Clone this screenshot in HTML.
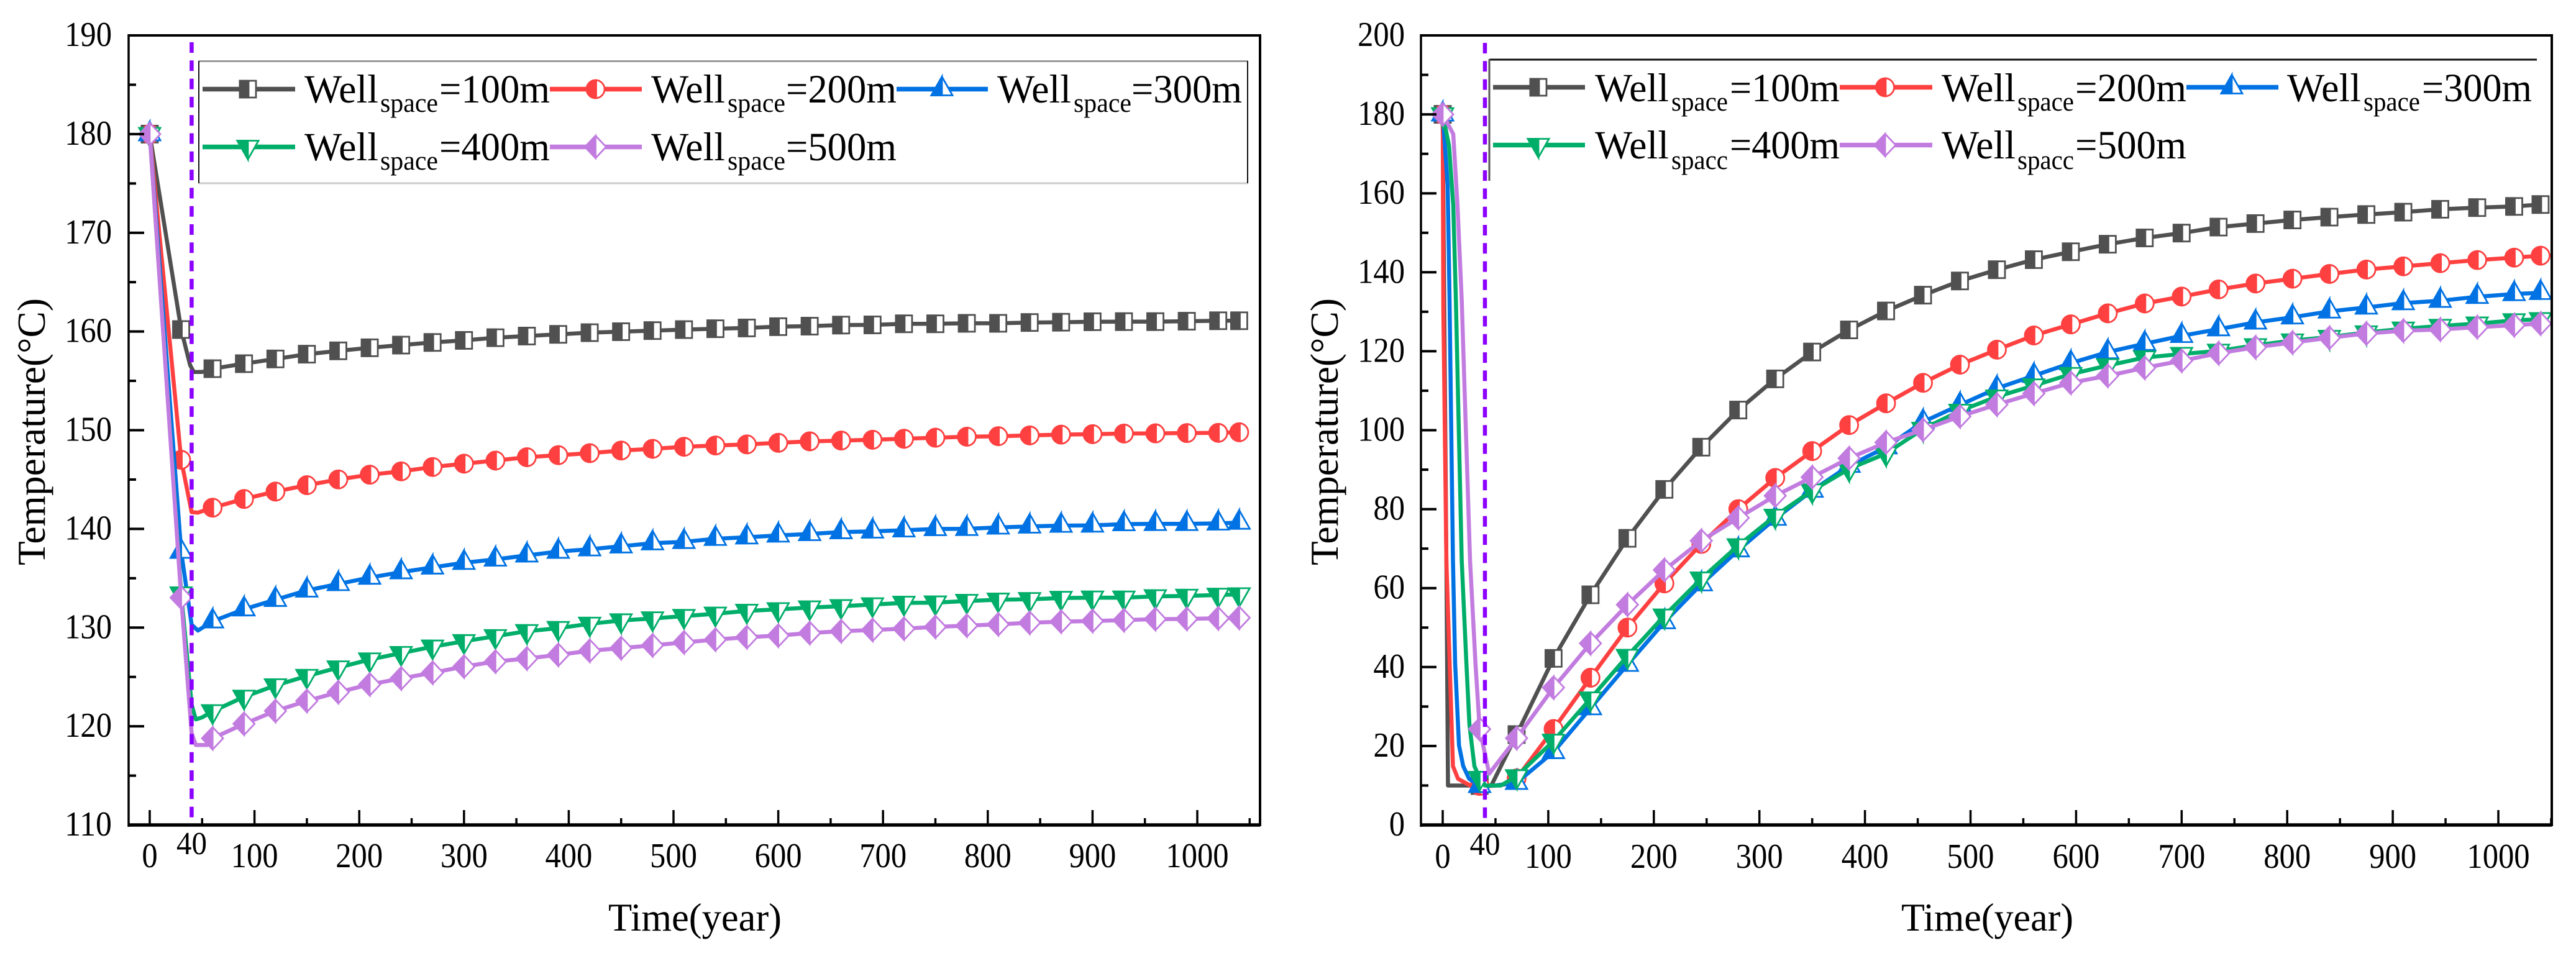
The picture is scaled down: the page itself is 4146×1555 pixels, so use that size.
<!DOCTYPE html>
<html lang="en">
<head>
<meta charset="utf-8">
<title>Temperature vs Time for well spacing</title>
<style>
html,body{margin:0;padding:0;background:#fff;}
svg{display:block;}
text{font-family:"Liberation Serif","Times New Roman",serif;fill:#000;}
</style>
</head>
<body>
<svg id="fig" xmlns="http://www.w3.org/2000/svg" width="4146" height="1555" viewBox="0 0 4146 1555">
<rect x="0" y="0" width="4146" height="1555" fill="#fff"/>

<g id="left-chart"></g>
<g id="right-chart"></g>

<!-- left legend box -->
<g>
<rect x="320" y="98" width="1688" height="197" fill="#fff" stroke="none"/>
<line x1="320" y1="98.5" x2="2008" y2="98.5" stroke="#999" stroke-width="3"/>
<line x1="320" y1="295" x2="2008" y2="295" stroke="#ccc" stroke-width="3"/>
<line x1="320" y1="98" x2="320" y2="295" stroke="#111" stroke-width="2"/>
<line x1="2008" y1="98" x2="2008" y2="295" stroke="#111" stroke-width="2"/>
<g id="left-legend-keys"></g>
<g>
<text x="490" y="165" font-size="65" textLength="119" lengthAdjust="spacingAndGlyphs">Well</text>
<text x="612" y="180" font-size="43" textLength="93" lengthAdjust="spacingAndGlyphs">space</text>
<text x="707" y="165" font-size="65" textLength="178" lengthAdjust="spacingAndGlyphs">=100m</text>
</g>
<g>
<text x="1048" y="165" font-size="65" textLength="119" lengthAdjust="spacingAndGlyphs">Well</text>
<text x="1171" y="180" font-size="43" textLength="93" lengthAdjust="spacingAndGlyphs">space</text>
<text x="1265" y="165" font-size="65" textLength="178" lengthAdjust="spacingAndGlyphs">=200m</text>
</g>
<g>
<text x="1605" y="165" font-size="65" textLength="119" lengthAdjust="spacingAndGlyphs">Well</text>
<text x="1728" y="180" font-size="43" textLength="93" lengthAdjust="spacingAndGlyphs">space</text>
<text x="1821" y="165" font-size="65" textLength="178" lengthAdjust="spacingAndGlyphs">=300m</text>
</g>
<g>
<text x="490" y="258" font-size="65" textLength="119" lengthAdjust="spacingAndGlyphs">Well</text>
<text x="612" y="273" font-size="43" textLength="93" lengthAdjust="spacingAndGlyphs">space</text>
<text x="707" y="258" font-size="65" textLength="178" lengthAdjust="spacingAndGlyphs">=400m</text>
</g>
<g>
<text x="1048" y="258" font-size="65" textLength="119" lengthAdjust="spacingAndGlyphs">Well</text>
<text x="1171" y="273" font-size="43" textLength="93" lengthAdjust="spacingAndGlyphs">space</text>
<text x="1265" y="258" font-size="65" textLength="178" lengthAdjust="spacingAndGlyphs">=500m</text>
</g>
</g>

<!-- right legend box -->
<g>
<line x1="2397" y1="96" x2="4083" y2="96" stroke="#111" stroke-width="3"/>
<line x1="2397" y1="95" x2="2397" y2="291" stroke="#555" stroke-width="3"/>
<g id="right-legend-keys"></g>
<g>
<text x="2567" y="163" font-size="65" textLength="119" lengthAdjust="spacingAndGlyphs">Well</text>
<text x="2690" y="178" font-size="43" textLength="91" lengthAdjust="spacingAndGlyphs">space</text>
<text x="2784" y="163" font-size="65" textLength="177" lengthAdjust="spacingAndGlyphs">=100m</text>
</g>
<g>
<text x="3125" y="163" font-size="65" textLength="119" lengthAdjust="spacingAndGlyphs">Well</text>
<text x="3247" y="178" font-size="43" textLength="91" lengthAdjust="spacingAndGlyphs">space</text>
<text x="3340" y="163" font-size="65" textLength="179" lengthAdjust="spacingAndGlyphs">=200m</text>
</g>
<g>
<text x="3681" y="163" font-size="65" textLength="119" lengthAdjust="spacingAndGlyphs">Well</text>
<text x="3804" y="178" font-size="43" textLength="91" lengthAdjust="spacingAndGlyphs">space</text>
<text x="3898" y="163" font-size="65" textLength="177" lengthAdjust="spacingAndGlyphs">=300m</text>
</g>
<g>
<text x="2567" y="255" font-size="65" textLength="119" lengthAdjust="spacingAndGlyphs">Well</text>
<text x="2690" y="272" font-size="43" textLength="91" lengthAdjust="spacingAndGlyphs">spacc</text>
<text x="2784" y="255" font-size="65" textLength="177" lengthAdjust="spacingAndGlyphs">=400m</text>
</g>
<g>
<text x="3125" y="255" font-size="65" textLength="119" lengthAdjust="spacingAndGlyphs">Well</text>
<text x="3247" y="272" font-size="43" textLength="91" lengthAdjust="spacingAndGlyphs">spacc</text>
<text x="3340" y="255" font-size="65" textLength="179" lengthAdjust="spacingAndGlyphs">=500m</text>
</g>
</g>

<!-- axis titles -->
<text x="979" y="1498" font-size="63" textLength="279" lengthAdjust="spacingAndGlyphs">Time(year)</text>
<text x="3060" y="1498" font-size="63" textLength="277" lengthAdjust="spacingAndGlyphs">Time(year)</text>
<text transform="translate(72,910) rotate(-90)" font-size="63" textLength="430" lengthAdjust="spacingAndGlyphs">Temperature(°C)</text>
<text transform="translate(2153,910) rotate(-90)" font-size="63" textLength="430" lengthAdjust="spacingAndGlyphs">Temperature(°C)</text>
</svg>

<script>
// ---------- Left chart data (temperature at production end) ----------
const leftYears = [0,30,60,90,120,150,180,210,240,270,300,330,360,390,420,450,480,510,540,570,600,630,660,690,720,750,780,810,840,870,900,930,960,990,1020,1040];
const leftTemp100 = [180,160.2,156.23,156.74,157.22,157.7,158.04,158.35,158.62,158.89,159.1,159.37,159.54,159.71,159.88,159.98,160.09,160.19,160.28,160.36,160.49,160.54,160.65,160.67,160.78,160.78,160.83,160.83,160.91,160.94,160.99,161.0,161.0,161.04,161.09,161.09];
const leftTemp200 = [180,147.0,142.15,143.03,143.78,144.43,145.01,145.49,145.83,146.27,146.61,146.92,147.26,147.47,147.67,147.94,148.11,148.32,148.45,148.56,148.72,148.87,148.95,149.03,149.13,149.24,149.34,149.39,149.47,149.55,149.6,149.66,149.68,149.71,149.73,149.79];
const leftTemp300 = [180,137.7,130.64,131.86,132.82,133.77,134.42,135.07,135.62,136.1,136.57,136.91,137.32,137.7,137.94,138.24,138.55,138.69,139.0,139.15,139.34,139.49,139.68,139.75,139.86,139.99,140.01,140.15,140.25,140.33,140.35,140.49,140.51,140.51,140.56,140.64];
const leftTemp400 = [180,133.45,121.51,122.98,124.14,125.09,125.95,126.76,127.41,128.06,128.61,129.12,129.63,129.94,130.38,130.72,130.92,131.16,131.4,131.69,131.85,132.03,132.16,132.34,132.5,132.53,132.69,132.82,132.87,133.0,133.03,133.03,133.16,133.21,133.31,133.36];
const leftTemp500 = [180,133.04,118.78,120.25,121.55,122.57,123.46,124.24,124.85,125.43,126.05,126.56,126.87,127.24,127.65,127.92,128.2,128.5,128.78,129.03,129.19,129.45,129.63,129.76,129.89,130.07,130.2,130.33,130.49,130.6,130.67,130.75,130.86,130.88,130.94,130.99];

// extra line samples between the markers (trough near year 40)
const leftExtraYears100 = [38.5,42,50];
const leftExtraTemps100 = [156.6,155.9,155.9];
const leftExtraYears200 = [40,46];
const leftExtraTemps200 = [141.7,141.65];
const leftExtraYears300 = [40,46];
const leftExtraTemps300 = [130.3,129.7];
const leftExtraYears400 = [40,44,50];
const leftExtraTemps400 = [122.2,120.7,120.9];
const leftExtraYears500 = [40,44,55];
const leftExtraTemps500 = [119.3,118.1,118.1];

const leftYMajor = [110,120,130,140,150,160,170,180,190];
const leftYMinor = [115,125,135,145,155,165,175,185];

// ---------- Right chart data (temperature at injection end) ----------
const rightYears = [0,35,70,105,140,175,210,245,280,315,350,385,420,455,490,525,560,595,630,665,700,735,770,805,840,875,910,945,980,1015,1040];
const rightTemp100 = [180,10,22.9,42.2,58.3,72.6,85.0,95.7,105.1,113.0,119.8,125.4,130.2,134.2,137.8,140.65,143.2,145.2,147.1,148.7,149.93,151.44,152.34,153.25,153.97,154.63,155.23,155.96,156.38,156.68,157.16];
const rightTemp200 = [180,9.9,11.8,24.3,37.3,50.0,61.2,71.2,80.0,87.9,94.7,101.3,106.8,112.0,116.6,120.4,124.0,126.8,129.6,132.1,133.85,135.66,137.16,138.37,139.57,140.7,141.5,142.3,143.1,143.7,144.2];
const rightTemp300 = [180,9.9,10.7,18.5,29.6,40.6,51.4,61.0,69.6,77.6,84.7,91.0,95.7,102.1,106.4,110.6,113.8,117.0,119.8,121.9,123.9,125.6,127.3,128.6,130.1,131.1,132.2,132.8,133.8,134.5,134.8];
const rightTemp400 = [180,11.9,12.3,21.3,32.0,42.8,53.0,62.4,70.8,78.3,84.7,90.2,94.1,100.3,104.9,108.5,111.3,114.2,116.4,118.4,119.3,120.1,121.5,122.7,123.6,124.75,125.7,126.4,127.0,127.8,128.1];
const rightTemp500 = [180,24.3,22.0,34.8,46.0,55.8,64.6,72.0,77.8,83.4,88.1,92.9,96.9,100.1,103.5,106.5,109.3,112.0,113.8,115.8,117.6,119.5,121.0,122.2,123.4,124.5,125.2,125.5,126.1,126.6,127.0];

const rightExtraYears100 = [1.5,3.5,5,20,46];
const rightExtraTemps100 = [130,67,10,10,10];
const rightExtraYears200 = [0.6,3.5,9.7,14.5,26,46,60];
const rightExtraTemps200 = [131,67,14.9,11.7,10,9.9,10.3];
const rightExtraYears300 = [4.7,6.5,9.7,11.8,15.4,19.4,25,50];
const rightExtraTemps300 = [162,133,67,41,20.2,14.9,11.7,10];
const rightExtraYears400 = [6,10,12.5,18,22.4,25.3,30,40,55];
const rightExtraTemps400 = [172,157,133,67,41,25.4,14.9,10,10];
const rightExtraYears500 = [10,14,18,25.9,31,44];
const rightExtraTemps500 = [175,157,133,67,41,13];

const rightYMajor = [0,20,40,60,80,100,120,140,160,180,200];
const rightYMinor = [10,30,50,70,90,110,130,150,170,190];

// ---------- Shared axis data ----------
const xMajor = [0,100,200,300,400,500,600,700,800,900,1000];
const xMinor = [50,150,250,350,450,550,650,750,850,950,1050];
const markYear = [40];

const SVGNS = 'http://www.w3.org/2000/svg';
const COL_100 = '#505050';
const COL_200 = '#ff4040';
const COL_300 = '#0072e3';
const COL_400 = '#00ae6a';
const COL_500 = '#c27ce0';

function make(parent, tag, attrs) {
  const el = document.createElementNS(SVGNS, tag);
  for (const k in attrs) el.setAttribute(k, attrs[k]);
  parent.appendChild(el);
  return el;
}

function drawMarker(parent, kind, color, cx, cy) {
  const g = make(parent, 'g', {});
  
  
  const sw = 2.8;
  if (kind === 'square') {
    make(g, 'rect', {x: cx-13, y: cy-13.5, width: 26, height: 27, fill: '#fff', stroke: color, 'stroke-width': sw});
    make(g, 'rect', {x: cx-13, y: cy-13.5, width: 14, height: 27, fill: color, stroke: color, 'stroke-width': sw});
  } else if (kind === 'circle') {
    make(g, 'circle', {cx: cx, cy: cy, r: 14.5, fill: '#fff', stroke: color, 'stroke-width': sw});
    make(g, 'path', {d: 'M' + (cx+1) + ' ' + (cy-14.5) + 'A14.5 14.5 0 0 0 ' + (cx+1) + ' ' + (cy+14.5) + 'Z', fill: color, stroke: color, 'stroke-width': sw});
  } else if (kind === 'up') {
    const top = cy-20, base = cy+10;
    make(g, 'polygon', {points: cx + ',' + top + ' ' + (cx+17) + ',' + base + ' ' + (cx-17) + ',' + base, fill: '#fff', stroke: color, 'stroke-width': sw});
    make(g, 'polygon', {points: cx + ',' + top + ' ' + cx + ',' + base + ' ' + (cx-17) + ',' + base, fill: color, stroke: color, 'stroke-width': sw});
  } else if (kind === 'down') {
    const top = cy-10, tip = cy+20;
    make(g, 'polygon', {points: (cx-17) + ',' + top + ' ' + (cx+17) + ',' + top + ' ' + cx + ',' + tip, fill: '#fff', stroke: color, 'stroke-width': sw});
    make(g, 'polygon', {points: (cx-17) + ',' + top + ' ' + cx + ',' + top + ' ' + cx + ',' + tip, fill: color, stroke: color, 'stroke-width': sw});
  } else {
    make(g, 'polygon', {points: cx + ',' + (cy-18) + ' ' + (cx+17) + ',' + cy + ' ' + cx + ',' + (cy+18) + ' ' + (cx-17) + ',' + cy, fill: '#fff', stroke: color, 'stroke-width': sw});
    make(g, 'polygon', {points: cx + ',' + (cy-18) + ' ' + cx + ',' + (cy+18) + ' ' + (cx-17) + ',' + cy, fill: color, stroke: color, 'stroke-width': sw});
  }
}

function drawSeries(parent, name, kind, color, years, temps, exYears, exTemps, xf, yf) {
  const g = make(parent, 'g', {});
  
  
  const pts = [];
  years.forEach(function (yr, i) { pts.push([yr, temps[i]]); });
  exYears.forEach(function (yr, i) { pts.push([yr, exTemps[i]]); });
  pts.sort(function (a, b) { return a[0] - b[0]; });
  const line = make(g, 'polyline', {
    points: pts.map(function (p) { return xf(p[0]).toFixed(1) + ',' + yf(p[1]).toFixed(1); }).join(' '),
    fill: 'none', stroke: color, 'stroke-width': 6.5, 'stroke-linejoin': 'round'
  });
  
  
  years.forEach(function (yr, i) {
    drawMarker(g, kind, color, xf(yr), yf(temps[i]));
  });
}

function tickLabel(parent, txt, x, y, size, anchor, charW, name) {
  const t = make(parent, 'text', {
    x: x, y: y, 'font-size': size, 'text-anchor': anchor,
    textLength: String(txt).length * charW, lengthAdjust: 'spacingAndGlyphs'
  });
  t.textContent = txt;
  
  
}

function drawChart(cfg) {
  const root = document.getElementById(cfg.id);
  const xf = function (v) { return cfg.x0 + v * cfg.pxPerYear; };
  const yf = function (v) { return cfg.bottom - (v - cfg.yMin) / (cfg.yMax - cfg.yMin) * (cfg.bottom - cfg.top); };

  cfg.series.forEach(function (s) {
    drawSeries(root, s.name, s.kind, s.color, s.years, s.temps, s.exYears, s.exTemps, xf, yf);
  });

  const axes = make(root, 'g', {});
  
  

  const frame = [
    [cfg.left, cfg.top, cfg.right, cfg.top, 4, 'top-border'],
    [cfg.right, cfg.top - 2, cfg.right, cfg.bottom + 2, 4, 'right-border'],
    [cfg.left, cfg.top - 2, cfg.left, cfg.bottom + 3, 3.5, 'y-axis-line'],
    [cfg.left, cfg.bottom, cfg.right, cfg.bottom, 5.5, 'x-axis-line']
  ];
  frame.forEach(function (f) {
    const l = make(axes, 'line', {x1: f[0], y1: f[1], x2: f[2], y2: f[3], stroke: '#000', 'stroke-width': f[4]});
    
    
  });

  xMajor.forEach(function (v) {
    const l = make(axes, 'line', {x1: xf(v), y1: cfg.bottom, x2: xf(v), y2: cfg.bottom - 24, stroke: '#000', 'stroke-width': 3.5});
    
    
    tickLabel(axes, v, xf(v), cfg.xLabelY, 56, 'middle', 25.3, 'x-tick-label');
  });
  xMinor.forEach(function (v) {
    const l = make(axes, 'line', {x1: xf(v), y1: cfg.bottom, x2: xf(v), y2: cfg.bottom - 11, stroke: '#000', 'stroke-width': 3.5});
    
    
  });
  cfg.yMajor.forEach(function (v) {
    const l = make(axes, 'line', {x1: cfg.left, y1: yf(v), x2: cfg.left + 25, y2: yf(v), stroke: '#000', 'stroke-width': 4});
    
    
    tickLabel(axes, v, cfg.yLabelX, yf(v) + 17, 56, 'end', 25.3, 'y-tick-label');
  });
  cfg.yMinor.forEach(function (v) {
    const l = make(axes, 'line', {x1: cfg.left, y1: yf(v), x2: cfg.left + 12, y2: yf(v), stroke: '#000', 'stroke-width': 4});
    
    
  });

  markYear.forEach(function (v) {
    const d = make(root, 'line', {
      x1: xf(v), y1: cfg.dashTop, x2: xf(v), y2: cfg.bottom,
      stroke: '#8b00ff', 'stroke-width': 6.5, 'stroke-dasharray': '17 12.3'
    });
    
    
    tickLabel(root, v, xf(v), cfg.markLabelY, 52, 'middle', 24.5, 'year-40-label');
  });
}

drawChart({
  id: 'left-chart', prefix: 'left',
  x0: 241, pxPerYear: 1.686, left: 207, right: 2028, top: 57, bottom: 1328,
  yMin: 110, yMax: 190, yMajor: leftYMajor, yMinor: leftYMinor,
  yLabelX: 180, xLabelY: 1396, markLabelY: 1375, dashTop: 68,
  series: [
    {name: 'left-series-100m', kind: 'square', color: COL_100, years: leftYears, temps: leftTemp100, exYears: leftExtraYears100, exTemps: leftExtraTemps100},
    {name: 'left-series-200m', kind: 'circle', color: COL_200, years: leftYears, temps: leftTemp200, exYears: leftExtraYears200, exTemps: leftExtraTemps200},
    {name: 'left-series-300m', kind: 'up', color: COL_300, years: leftYears, temps: leftTemp300, exYears: leftExtraYears300, exTemps: leftExtraTemps300},
    {name: 'left-series-400m', kind: 'down', color: COL_400, years: leftYears, temps: leftTemp400, exYears: leftExtraYears400, exTemps: leftExtraTemps400},
    {name: 'left-series-500m', kind: 'diamond', color: COL_500, years: leftYears, temps: leftTemp500, exYears: leftExtraYears500, exTemps: leftExtraTemps500}
  ]
});

drawChart({
  id: 'right-chart', prefix: 'right',
  x0: 2322, pxPerYear: 1.699, left: 2287, right: 4107, top: 57, bottom: 1328,
  yMin: 0, yMax: 200, yMajor: rightYMajor, yMinor: rightYMinor,
  yLabelX: 2261, xLabelY: 1397, markLabelY: 1376, dashTop: 69,
  series: [
    {name: 'right-series-100m', kind: 'square', color: COL_100, years: rightYears, temps: rightTemp100, exYears: rightExtraYears100, exTemps: rightExtraTemps100},
    {name: 'right-series-200m', kind: 'circle', color: COL_200, years: rightYears, temps: rightTemp200, exYears: rightExtraYears200, exTemps: rightExtraTemps200},
    {name: 'right-series-300m', kind: 'up', color: COL_300, years: rightYears, temps: rightTemp300, exYears: rightExtraYears300, exTemps: rightExtraTemps300},
    {name: 'right-series-400m', kind: 'down', color: COL_400, years: rightYears, temps: rightTemp400, exYears: rightExtraYears400, exTemps: rightExtraTemps400},
    {name: 'right-series-500m', kind: 'diamond', color: COL_500, years: rightYears, temps: rightTemp500, exYears: rightExtraYears500, exTemps: rightExtraTemps500}
  ]
});

function legendKey(parentId, kind, color, x1, x2, mx, y) {
  const parent = document.getElementById(parentId);
  const g = make(parent, 'g', {});
  
  
  make(g, 'line', {x1: x1, y1: y, x2: x2, y2: y, stroke: color, 'stroke-width': 7.5});
  drawMarker(g, kind, color, mx, y);
}

legendKey('left-legend-keys', 'square', COL_100, 326, 475, 399, 143.5);
legendKey('left-legend-keys', 'circle', COL_200, 885, 1033, 958.5, 143.5);
legendKey('left-legend-keys', 'up', COL_300, 1443, 1590, 1516, 143.5);
legendKey('left-legend-keys', 'down', COL_400, 326, 475, 399, 236.5);
legendKey('left-legend-keys', 'diamond', COL_500, 885, 1033, 958.5, 236.5);

legendKey('right-legend-keys', 'square', COL_100, 2403, 2551, 2476, 140.5);
legendKey('right-legend-keys', 'circle', COL_200, 2961, 3110, 3034, 140.5);
legendKey('right-legend-keys', 'up', COL_300, 3519, 3667, 3592, 140.5);
legendKey('right-legend-keys', 'down', COL_400, 2403, 2551, 2476, 233.5);
legendKey('right-legend-keys', 'diamond', COL_500, 2961, 3110, 3034, 233.5);
</script>
</body>
</html>
